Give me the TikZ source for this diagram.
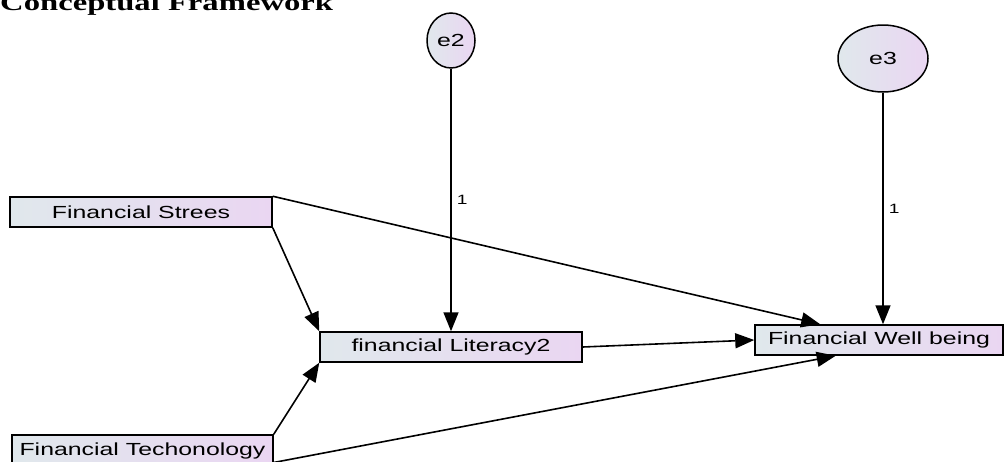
\documentclass[tikz,border=0pt]{standalone}
\usepackage{fontspec}
\setmainfont{Liberation Sans}
\newfontfamily\headfont{Liberation Serif}
\usepackage{graphicx}
\usetikzlibrary{arrows.meta,positioning,shapes.geometric}

\definecolor{shadeleft}{RGB}{224,232,236}
\definecolor{shaderight}{RGB}{234,214,242}
\newcommand{\wide}[1]{\scalebox{1.42}[1]{#1}}

\begin{document}
\begin{tikzpicture}[x=1pt,y=-1pt,
        var/.style={rectangle,draw,line width=1.5pt,minimum height=30pt,inner sep=0pt,
            left color=shadeleft,right color=shaderight,font=\fontsize{17.5}{20}\selectfont},
        err/.style={ellipse,draw,line width=1.5pt,inner sep=0pt,
            left color=shadeleft,right color=shaderight,font=\fontsize{17.5}{20}\selectfont},
        path/.style={-{Triangle[length=19pt,width=15pt]},line width=1.6pt},
        weight/.style={font=\fontsize{13.5}{15}\selectfont,inner sep=5pt}]
    \useasboundingbox (0,0) rectangle (1005,461);
    \node[anchor=base west,inner sep=0pt,font=\headfont\bfseries\fontsize{23}{26}\selectfont] (title) at (0,10.5) {\wide{Conceptual Framework}};
    % observed variables
    \node[var,minimum width=262pt] (stress) at (141,212) {\wide{Financial Strees}};
    \node[var,minimum width=262pt] (lit) at (451,347) {\wide{financial Literacy2}};
    \node[var,minimum width=248pt] (well) at (879,340) {\wide{Financial Well being}};
    \node[var,minimum width=261pt,minimum height=32pt] (tech) at (142.5,451) {\wide{Financial Techonology}};
    % error terms
    \node[err,minimum width=48pt,minimum height=55pt] (e2) at (451,40.5) {\wide{e2}};
    \node[err,minimum width=90pt,minimum height=67pt] (e3) at (883,58.5) {\wide{e3}};
    \path[path]
    (e2) edge node[weight,right] {\wide{1}} (lit)
    (e3) edge node[weight,right] {\wide{1}} (e3 |- well.north)
    (stress.south east) edge (lit.north west)
    (tech.north east) edge (lit.south west)
    (stress.north east) edge (well.165)
    (lit.east) edge (well.west)
    (tech.-5) edge (well.-160);
\end{tikzpicture}
\end{document}
